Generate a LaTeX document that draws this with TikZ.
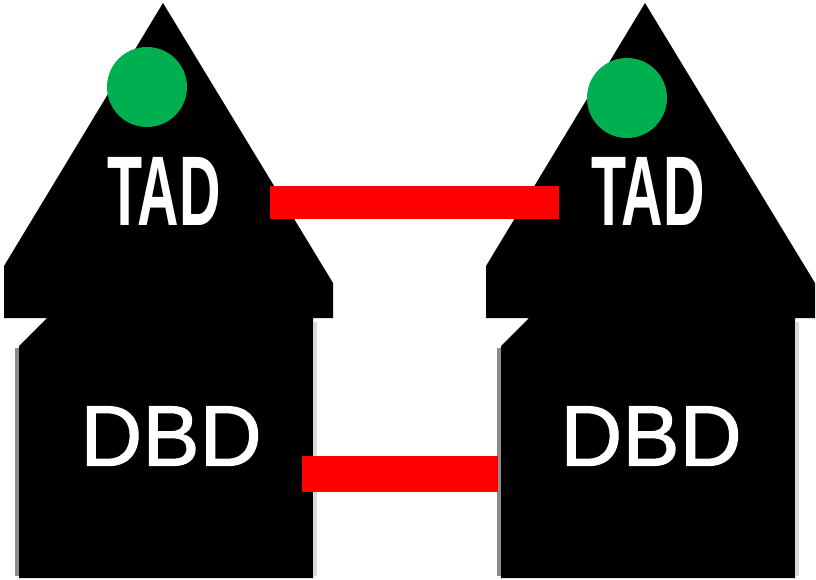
\documentclass[tikz,border=0pt]{standalone}
\usepackage{fontspec}
\setmainfont{Liberation Sans}
\newfontfamily\dbdfont[FakeBold=1.2]{Liberation Sans}
\definecolor{lampgreen}{RGB}{0,176,80}
\definecolor{barred}{RGB}{255,0,0}
\tikzset{
  house/.style={fill=black, draw=none},
  lamp/.style={circle, fill=lampgreen, draw=none, minimum size=80pt, inner sep=0pt},
  toplabel/.style={text=white, inner sep=0pt, font=\fontsize{99}{99}\selectfont\bfseries},
  botlabel/.style={text=white, inner sep=0pt, font=\dbdfont\fontsize{86}{86}\selectfont},
  link/.style={draw=barred, line width=#1, line cap=butt},
  edgeL/.style={draw=black!45, line width=4pt},
  edgeR/.style={draw=black!15, line width=4pt}
}
\begin{document}
\begin{tikzpicture}[x=1pt,y=-1pt]
\useasboundingbox (0,0) rectangle (816,579);
\fill[white] (0,0) rectangle (816,579);
% left house
\fill[house] (163,3) -- (4,266) -- (4,318) -- (47,318) -- (19,346) -- (19,578) -- (313,578) -- (313,318) -- (333,318) -- (333,283) -- cycle;
\draw[edgeL] (17,348) -- (17,576);
\draw[edgeR] (315,322) -- (315,576);
% right house
\begin{scope}[xshift=482pt]
\fill[house] (163,3) -- (4,266) -- (4,318) -- (47,318) -- (19,346) -- (19,578) -- (313,578) -- (313,318) -- (333,318) -- (333,283) -- cycle;
\draw[edgeL] (17,348) -- (17,576);
\draw[edgeR] (315,322) -- (315,576);
\end{scope}
% lamps
\node[lamp] (lampL) at (147,87) {};
\node[lamp] (lampR) at (627,98) {};
% labels
\node[toplabel] (tadL) at (164,191) {\scalebox{0.58}[1]{TAD}};
\node[toplabel] (tadR) at (648,191) {\scalebox{0.58}[1]{TAD}};
\node[botlabel] (dbdL) at (171,436) {DBD};
\node[botlabel] (dbdR) at (651,436) {DBD};
% links
\coordinate (t1) at (270,202.5);
\coordinate (t2) at (559,202.5);
\coordinate (b1) at (302,474);
\coordinate (b2) at (498,474);
\draw[link=33pt] (t1) -- (t2);
\draw[link=36pt] (b1) -- (b2);
\end{tikzpicture}
\end{document}
